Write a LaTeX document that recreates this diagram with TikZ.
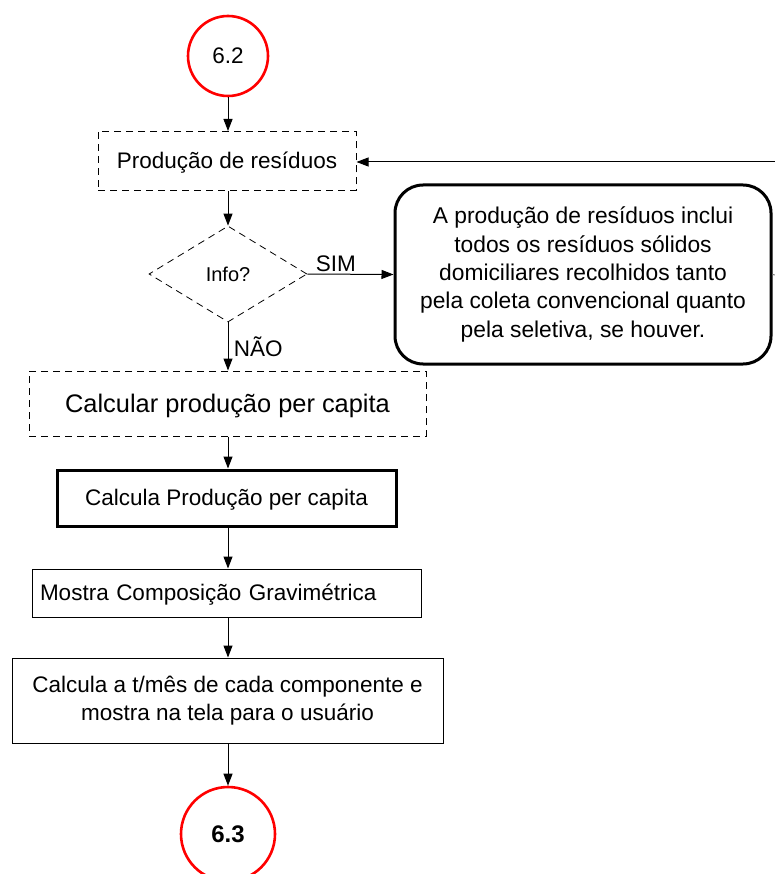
\documentclass[tikz,border=0pt]{standalone}
\usepackage{fontspec}
\setmainfont{Liberation Sans}
\usepackage{xcolor}
\usepackage{tikz}
\usetikzlibrary{arrows.meta,positioning,shapes.geometric}
\definecolor{linkc}{HTML}{FF0000}
\definecolor{stubc}{HTML}{808080}
\newcommand{\txt}{\fontsize{22.5}{28.2}\selectfont}
\tikzset{
  ar/.style={-{Triangle[length=12pt,width=9pt]},line width=1pt,black},
  pbox/.style={draw=black,line width=1pt,align=center,inner sep=0pt,font=\txt},
  dbox/.style={pbox,dash pattern=on 7pt off 5pt},
  conn/.style={circle,draw=linkc,line width=2.6pt,inner sep=0pt,font=\txt}
}
\begin{document}
\begin{tikzpicture}[x=1pt,y=-1pt]
\useasboundingbox (0,0) rectangle (775,874);
% connectors in and out
\node[conn,minimum size=80pt] (c62) at (228,56) {6.2};
\node[conn,minimum size=94pt,font=\fontsize{24}{28}\selectfont\bfseries] (c63) at (228,834) {6.3};
% steps
\node[dbox,minimum width=258pt,minimum height=59pt,text depth=1pt] (prod) at (227,161) {Produção de resíduos};
\node[diamond,draw=black,line width=0.8pt,dash pattern=on 7pt off 5pt,minimum width=158pt,minimum height=96pt,inner sep=0pt,font=\fontsize{20}{24}\selectfont] (info) at (228,274) {Info?};
\node[draw=black,line width=3pt,rounded corners=28pt,minimum width=376pt,minimum height=179pt,align=center,inner sep=0pt,font=\fontsize{22.8}{28.3}\selectfont] (note) at (583,274.5)
  {A produção de resíduos inclui\\todos os resíduos sólidos\\domiciliares recolhidos tanto\\pela coleta convencional quanto\\pela seletiva, se houver.};
\node[dbox,minimum width=397pt,minimum height=65pt,font=\fontsize{25.4}{30}\selectfont,text depth=1pt] (calc) at (227.5,403.5) {Calcular produção per capita};
\node[pbox,line width=3pt,minimum width=339pt,minimum height=56pt,text depth=1pt] (calcpc) at (226.5,498) {Calcula Produção per capita};
\node[pbox,text width=373pt,inner xsep=8pt,minimum height=48pt,align=left,text depth=1pt] (comp) at (226.5,593) {Mostra Composição Gravimétrica};
\node[pbox,minimum width=431pt,minimum height=85pt] (tmes) at (227.5,700.5) {Calcula a t/mês de cada componente e\\mostra na tela para o usuário};
% loose ends at the right border
\coordinate (fromright) at (775,162);
\coordinate (noteout) at (775,275);
% flow
\draw[ar] (c62.south) -- (c62.south |- prod.north);
\draw[ar] (fromright) -- (prod.east |- fromright);
\draw[ar] (c62.south |- prod.south) -- (info.north);
\draw[ar] (info.east) -- (note.west) node[pos=0.33,above=-1pt,font=\txt]{SIM};
\draw[stubc,line width=1pt] (note.east) -- (noteout);
\draw[ar] (info.south) -- (info.south |- calc.north) node[midway,right=2pt,font=\txt]{NÃO};
\draw[ar] (c62.south |- calc.south) -- (c62.south |- calcpc.north);
\draw[ar] (c62.south |- calcpc.south) -- (c62.south |- comp.north);
\draw[ar] (c62.south |- comp.south) -- (c62.south |- tmes.north);
\draw[ar] (c62.south |- tmes.south) -- (c63.north);
\end{tikzpicture}
\end{document}
